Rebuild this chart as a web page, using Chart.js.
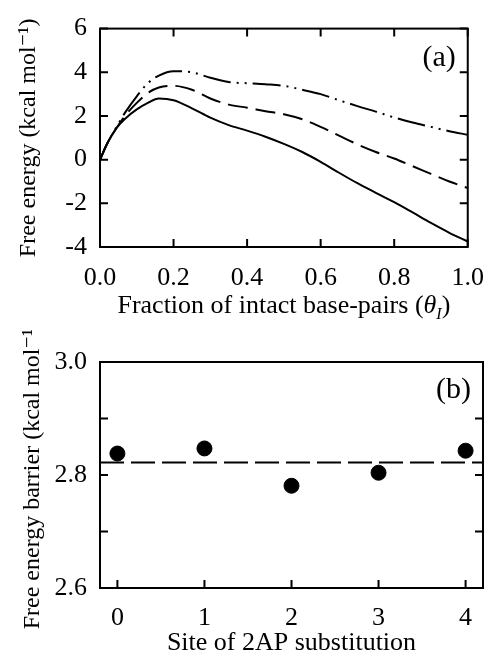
<!DOCTYPE html>
<html>
<head>
<meta charset="utf-8">
<script src="https://cdn.jsdelivr.net/npm/chart.js@4.4.1/dist/chart.umd.min.js"></script>
<style>
  body { margin: 0; background: #fff; }
  .box { position: relative; width: 500px; }
</style>
</head>
<body>
<div class="box" style="height:330px"><canvas id="energyChart" width="500" height="330"></canvas></div>
<div class="box" style="height:327px"><canvas id="barrierChart" width="500" height="327"></canvas></div>
<script>
// panel (a): free energy profiles vs fraction of intact base-pairs
const theta = [0, 0.02, 0.045, 0.07, 0.1, 0.13, 0.16, 0.2, 0.25, 0.3, 0.35, 0.4, 0.45, 0.5, 0.55, 0.6, 0.65, 0.7, 0.75, 0.8, 0.85, 0.9, 0.95, 1.0];
const solidCurve = [0, 0.75, 1.45, 1.9, 2.3, 2.6, 2.8, 2.72, 2.35, 1.92, 1.58, 1.33, 1.05, 0.72, 0.35, -0.1, -0.6, -1.08, -1.52, -1.95, -2.42, -2.9, -3.35, -3.75];
const dashedCurve = [0, 0.75, 1.45, 2.05, 2.6, 3.05, 3.3, 3.38, 3.2, 2.8, 2.52, 2.38, 2.22, 2.08, 1.85, 1.5, 1.1, 0.7, 0.35, 0.05, -0.3, -0.65, -1.0, -1.3];
const dashDotCurve = [0, 0.75, 1.5, 2.2, 2.9, 3.5, 3.85, 4.05, 4.0, 3.75, 3.55, 3.5, 3.45, 3.38, 3.2, 3.0, 2.72, 2.45, 2.2, 1.93, 1.7, 1.5, 1.3, 1.14];
const thetaTicks = [0, 0.2, 0.4, 0.6, 0.8, 1.0];
const energyTicks = [-4, -2, 0, 2, 4, 6];

// panel (b): barrier for each 2AP site
const sites = [0, 1, 2, 3, 4];
const barriers = [2.838, 2.847, 2.781, 2.804, 2.843];
const meanBarrier = 2.822;
const barrierTicks = [2.6, 2.7, 2.8, 2.9, 3.0];

const serif = "'Liberation Serif', 'DejaVu Serif', serif";

function pts(xs, ys) {
    return xs.map((x, i) => ({x: x, y: ys[i]}));
}

// frame + inward tick marks drawn from the scales
const frameTicks = {
    id: 'frameTicks',
    afterDraw(chart, args, opts) {
        const ctx = chart.ctx;
        const a = chart.chartArea;
        const xs = chart.scales.x, ys = chart.scales.y;
        ctx.save();
        ctx.strokeStyle = '#000';
        ctx.lineWidth = 2;
        ctx.strokeRect(a.left, a.top, a.right - a.left, a.bottom - a.top);
        ctx.beginPath();
        xs.ticks.forEach(t => {
            const px = xs.getPixelForValue(t.value);
            ctx.moveTo(px, a.bottom); ctx.lineTo(px, a.bottom - 8);
            if (opts.topTicks) { ctx.moveTo(px, a.top); ctx.lineTo(px, a.top + 8); }
        });
        ys.ticks.forEach(t => {
            const py = ys.getPixelForValue(t.value);
            ctx.moveTo(a.left, py); ctx.lineTo(a.left + 8, py);
            ctx.moveTo(a.right, py); ctx.lineTo(a.right - 8, py);
        });
        ctx.stroke();
        ctx.fillStyle = '#000';
        ctx.font = '30px ' + serif;
        ctx.textAlign = 'right';
        ctx.textBaseline = 'middle';
        ctx.fillText(opts.label, a.right - 12, a.top + opts.labelDy);

        // x title with italic theta and subscript I (panel a only)
        if (opts.thetaTitle) {
            const parts = [
                {t: 'Fraction of intact base-pairs (', f: '26px ' + serif, dy: 0},
                {t: 'θ', f: 'italic 26px ' + serif, dy: 0},
                {t: 'I', f: 'italic 16px ' + serif, dy: 6},
                {t: ')', f: '26px ' + serif, dy: 0}
            ];
            let w = 0;
            parts.forEach(p => { ctx.font = p.f; w += ctx.measureText(p.t).width; });
            let x = (a.left + a.right) / 2 - w / 2;
            ctx.textAlign = 'left';
            ctx.textBaseline = 'alphabetic';
            parts.forEach(p => {
                ctx.font = p.f;
                ctx.fillText(p.t, x, 313 + p.dy);
                x += ctx.measureText(p.t).width;
            });
        }
        ctx.restore();
    }
};

new Chart(document.getElementById('energyChart').getContext('2d'), {
    type: 'scatter',
    data: {
        datasets: [
            {data: pts(theta, solidCurve), borderColor: '#000', borderWidth: 2, showLine: true, pointRadius: 0, cubicInterpolationMode: 'monotone'},
            {data: pts(theta, dashedCurve), borderColor: '#000', borderWidth: 2, borderDash: [20, 8], showLine: true, pointRadius: 0, cubicInterpolationMode: 'monotone'},
            {data: pts(theta, dashDotCurve), borderColor: '#000', borderWidth: 2, borderDash: [28, 6, 2, 6, 2, 6], showLine: true, pointRadius: 0, cubicInterpolationMode: 'monotone'}
        ]
    },
    options: {
        responsive: false,
        animation: false,
        layout: {padding: {top: 22, right: 17, bottom: 0, left: 0}},
        plugins: {
            legend: {display: false},
            tooltip: {enabled: false},
            frameTicks: {topTicks: true, label: '(a)', labelDy: 30, thetaTitle: true}
        },
        scales: {
            x: {
                type: 'linear', min: 0, max: 1,
                afterBuildTicks: s => { s.ticks = thetaTicks.map(v => ({value: v})); },
                afterFit: s => { s.height = 83; },
                grid: {display: false, drawTicks: false},
                border: {display: false},
                ticks: {color: '#000', font: {family: serif, size: 26}, padding: 16, callback: v => v.toFixed(1), maxRotation: 0},
                title: {display: false}
            },
            y: {
                type: 'linear', min: -4, max: 6,
                afterBuildTicks: s => { s.ticks = energyTicks.map(v => ({value: v})); },
                afterFit: s => { s.width = 100; },
                grid: {display: false, drawTicks: false},
                border: {display: false},
                ticks: {color: '#000', font: {family: serif, size: 26}, padding: 13},
                title: {display: true, text: 'Free energy (kcal mol⁻¹)', color: '#000', font: {family: serif, size: 24}, padding: {top: 14, bottom: 0}}
            }
        }
    },
    plugins: [frameTicks]
});

new Chart(document.getElementById('barrierChart').getContext('2d'), {
    type: 'scatter',
    data: {
        datasets: [
            {data: pts(sites, barriers), backgroundColor: '#000', borderColor: '#000', pointRadius: 7.5, showLine: false},
            {data: [{x: -0.2, y: meanBarrier}, {x: 4.2, y: meanBarrier}], borderColor: '#000', borderWidth: 2, borderDash: [24, 7], showLine: true, pointRadius: 0}
        ]
    },
    options: {
        responsive: false,
        animation: false,
        layout: {padding: {top: 32, right: 17, bottom: 0, left: 0}},
        plugins: {
            legend: {display: false},
            tooltip: {enabled: false},
            frameTicks: {topTicks: false, label: '(b)', labelDy: 28}
        },
        scales: {
            x: {
                type: 'linear', min: -0.2, max: 4.2,
                afterBuildTicks: s => { s.ticks = sites.map(v => ({value: v})); },
                afterFit: s => { s.height = 69; },
                grid: {display: false, drawTicks: false},
                border: {display: false},
                ticks: {color: '#000', font: {family: serif, size: 26}, padding: 15, maxRotation: 0},
                title: {display: true, text: 'Site of 2AP substitution', color: '#000', font: {family: serif, size: 26}, padding: {top: 0, bottom: -2}}
            },
            y: {
                type: 'linear', min: 2.6, max: 3.0,
                afterBuildTicks: s => { s.ticks = barrierTicks.map(v => ({value: v})); },
                afterFit: s => { s.width = 100; },
                grid: {display: false, drawTicks: false},
                border: {display: false},
                ticks: {color: '#000', font: {family: serif, size: 26}, padding: 13,
                    callback: v => (Math.round(v * 10) % 2 === 0 ? v.toFixed(1) : '')},
                title: {display: true, text: 'Free energy barrier (kcal mol⁻¹)', color: '#000', font: {family: serif, size: 24}, padding: {top: 18, bottom: 0}}
            }
        }
    },
    plugins: [frameTicks]
});
</script>
</body>
</html>
